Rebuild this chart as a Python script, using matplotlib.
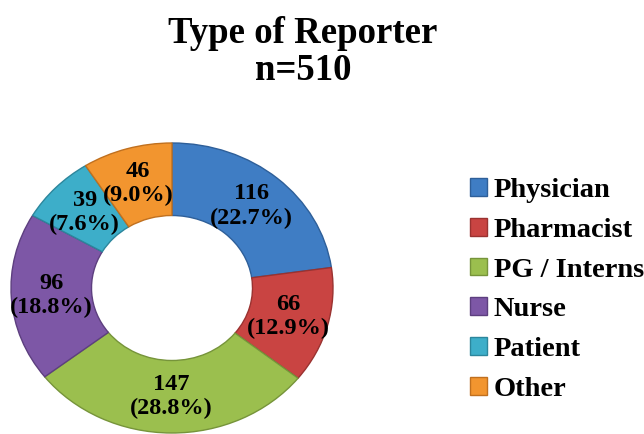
import matplotlib
matplotlib.use("Agg")
import matplotlib.pyplot as plt

# data
reporters = ["Physician", "Pharmacist", "PG / Interns", "Nurse", "Patient", "Other"]
counts = [116, 66, 147, 96, 39, 46]
colors = ["#3F7DC4", "#C94442", "#9BBF4E", "#7D57A6", "#3DAEC9", "#F2952F"]
edge_colors = ["#2E5F99", "#9A3230", "#76943A", "#5D3F7F", "#2C869C", "#C0701F"]
total = sum(counts)

plt.rcParams['font.family'] = ['Liberation Serif', 'DejaVu Serif']

fig = plt.figure(figsize=(6.44, 4.34), dpi=100)
ax = fig.add_axes([11 / 644, 1 / 434, 322 / 644, 290 / 434])


def fmt(p):
    n = int(round(p * total / 100))
    return f"{n}\n({p:.1f}%)"


wedges, texts, autotexts = ax.pie(
    counts, colors=colors, startangle=90, counterclock=False,
    autopct=fmt, pctdistance=0.75,
    wedgeprops=dict(width=0.5, linewidth=1.0),
    textprops=dict(fontsize=17.5, fontweight='bold', color='black'))
for w, ec in zip(wedges, edge_colors):
    w.set_edgecolor(ec)
for t in autotexts:
    t.set_linespacing(1.2)
ax.set_aspect('auto')
ax.set_xlim(-1.0, 1.0)
ax.set_ylim(-1.0, 1.0)

fig.text(303 / 644, 1 - 52 / 434, "Type of Reporter\nn=510", ha='center', va='center',
         fontsize=26.5, fontweight='bold', linespacing=1.05)

fig.legend(wedges, reporters, loc='center left', bbox_to_anchor=(456 / 644, 1 - 290 / 434),
           frameon=False, prop=dict(size=20.5, weight='bold'),
           handlelength=0.58, handleheight=0.58, handletextpad=0.25, labelspacing=0.52,
           borderpad=0.0)

fig.savefig("out.png", dpi=100)
